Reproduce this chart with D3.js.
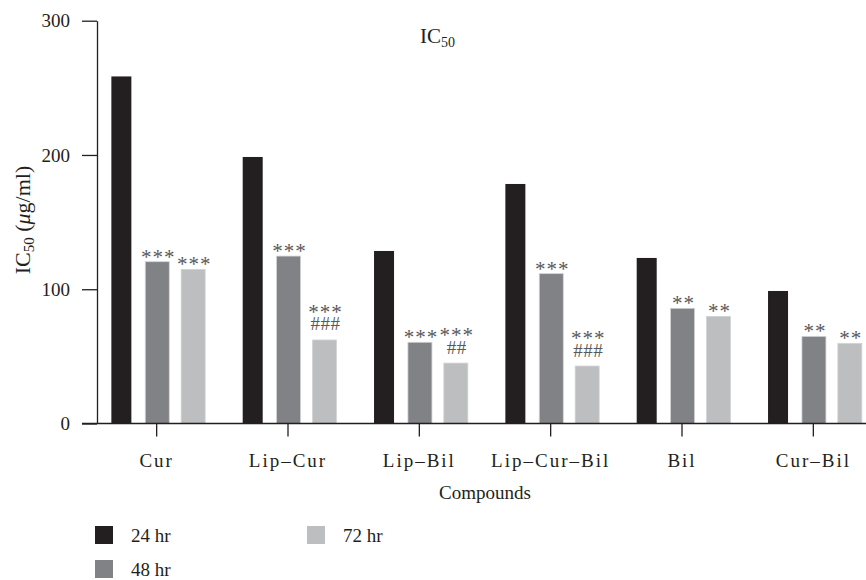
<!DOCTYPE html>
<html>
<head>
<meta charset="utf-8">
<script src="https://cdn.jsdelivr.net/npm/d3@7"></script>
<style>
  html, body { margin: 0; padding: 0; background: #fff; }
  svg text { font-family: "Liberation Serif", "Times New Roman", serif; fill: #231f20; }
</style>
</head>
<body>
<svg id="chart" width="866" height="580"></svg>
<script>
// IC50 values (µg/ml) per compound at each exposure time
const compounds = ["Cur", "Lip\u2013Cur", "Lip\u2013Bil", "Lip\u2013Cur\u2013Bil", "Bil", "Cur\u2013Bil"];
const seriesNames = ["24 hr", "48 hr", "72 hr"];
const ic50_24 = [258.5, 198.5, 128.5, 178.4, 123.3, 98.7];
const ic50_48 = [120.5, 124.7, 60.5, 111.6, 85.8, 64.9];
const ic50_72 = [114.8, 62.2, 45.0, 42.8, 79.8, 59.7];
// significance marks: * vs 24 hr, # vs free compound
const stars48 = ["***", "***", "***", "***", "**", "**"];
const stars72 = ["***", "***", "***", "***", "**", "**"];
const hash72 = ["", "###", "##", "###", "", ""];
const yTicks = [0, 100, 200, 300];

const colors = ["#231f20", "#808285", "#bcbec0"];
const barWidths = [20, 24, 24];
const ink = "#231f20";
const markInk = "#58595b";

const svg = d3.select("#chart");

const x = d3.scaleBand().domain(compounds).range([91, 879]).padding(0);
const xs = d3.scalePoint().domain(seriesNames).range([-35.3, 36.5]);
const y = d3.scaleLinear().domain([0, 300]).range([423.5, 20.7]);

const seriesValues = [ic50_24, ic50_48, ic50_72];
const bars = [];
seriesValues.forEach((vals, si) => {
  vals.forEach((v, ci) => bars.push({ c: compounds[ci], s: seriesNames[si], si, v }));
});

// bars
svg.append("g").selectAll("rect").data(bars).join("rect")
  .attr("x", d => x(d.c) + x.bandwidth() / 2 + xs(d.s) - barWidths[d.si] / 2)
  .attr("width", d => barWidths[d.si])
  .attr("y", d => y(d.v))
  .attr("height", d => y(0) - y(d.v))
  .attr("fill", d => colors[d.si])
  .attr("stroke", d => d.si === 0 ? "none" : "#d1d3d4")
  .attr("stroke-width", 0.8);

// y axis
const yAxis = svg.append("g").attr("transform", "translate(97,0)")
  .call(d3.axisLeft(y).tickValues(yTicks).tickSize(15).tickPadding(12).tickSizeOuter(0));
yAxis.select(".domain").attr("stroke", ink).attr("stroke-width", 1.3);
yAxis.selectAll(".tick line").attr("stroke", ink).attr("stroke-width", 1.3);
yAxis.selectAll(".tick text")
  .attr("font-size", 19).attr("font-family", "Liberation Serif, serif").attr("fill", ink);

// x axis baseline and ticks
svg.append("line").attr("x1", 82).attr("x2", 866).attr("y1", y(0)).attr("y2", y(0))
  .attr("stroke", ink).attr("stroke-width", 1.3);
const xAxis = svg.append("g").attr("transform", `translate(0,${y(0)})`)
  .call(d3.axisBottom(x).tickSize(13).tickPadding(0).tickSizeOuter(0));
xAxis.select(".domain").remove();
xAxis.selectAll(".tick line").attr("stroke", ink).attr("stroke-width", 1.3);
xAxis.selectAll(".tick text")
  .attr("y", 43).attr("dy", 0)
  .attr("font-size", 19).attr("font-family", "Liberation Serif, serif")
  .attr("letter-spacing", "2px").attr("fill", ink);

// significance annotations above the 48 hr and 72 hr bars
const ann = svg.append("g").attr("text-anchor", "middle");
compounds.forEach((c, ci) => {
  const cx48 = x(c) + x.bandwidth() / 2 + xs(seriesNames[1]) + 1;
  const cx72 = x(c) + x.bandwidth() / 2 + xs(seriesNames[2]) + 1;

  ann.append("text").attr("x", cx48).attr("y", y(ic50_48[ci]) + 2)
    .attr("font-size", 21).attr("letter-spacing", "1px")
    .style("fill", markInk).text(stars48[ci]);

  const t = ann.append("text").attr("x", cx72).style("fill", markInk);
  if (hash72[ci]) {
    t.attr("y", y(ic50_72[ci]) - 21);
    t.append("tspan").attr("font-size", 21).attr("letter-spacing", "1px").text(stars72[ci]);
    t.append("tspan").attr("x", cx72).attr("dy", 11.5)
      .attr("font-size", 19).attr("letter-spacing", "0.5px").text(hash72[ci]);
  } else {
    t.attr("y", y(ic50_72[ci]) + 2)
      .attr("font-size", 21).attr("letter-spacing", "1px").text(stars72[ci]);
  }
});

// title
const title = svg.append("text").attr("x", 420).attr("y", 43).attr("font-size", 21);
title.append("tspan").text("IC");
title.append("tspan").attr("font-size", 14).attr("dy", 4).text("50");

// y axis label
const yl = svg.append("text").attr("transform", "translate(30,220) rotate(-90)")
  .attr("text-anchor", "middle").attr("font-size", 22);
yl.append("tspan").text("IC");
yl.append("tspan").attr("font-size", 15).attr("dy", 4).text("50");
yl.append("tspan").attr("dy", -4).text(" (");
yl.append("tspan").attr("font-style", "italic").text("\u03bc");
yl.append("tspan").text("g/ml)");

// x axis label
svg.append("text").attr("x", 485).attr("y", 499).attr("text-anchor", "middle")
  .attr("font-size", 19).text("Compounds");

// legend
const legendPos = [[95, 526], [95, 560], [307, 526]];
const lg = svg.append("g");
seriesNames.forEach((s, i) => {
  const [lx, ly] = legendPos[i];
  lg.append("rect").attr("x", lx).attr("y", ly).attr("width", 18).attr("height", 18).attr("fill", colors[i]);
  lg.append("text").attr("x", lx + 36).attr("y", ly + 16).attr("font-size", 19).text(s);
});
</script>
</body>
</html>
